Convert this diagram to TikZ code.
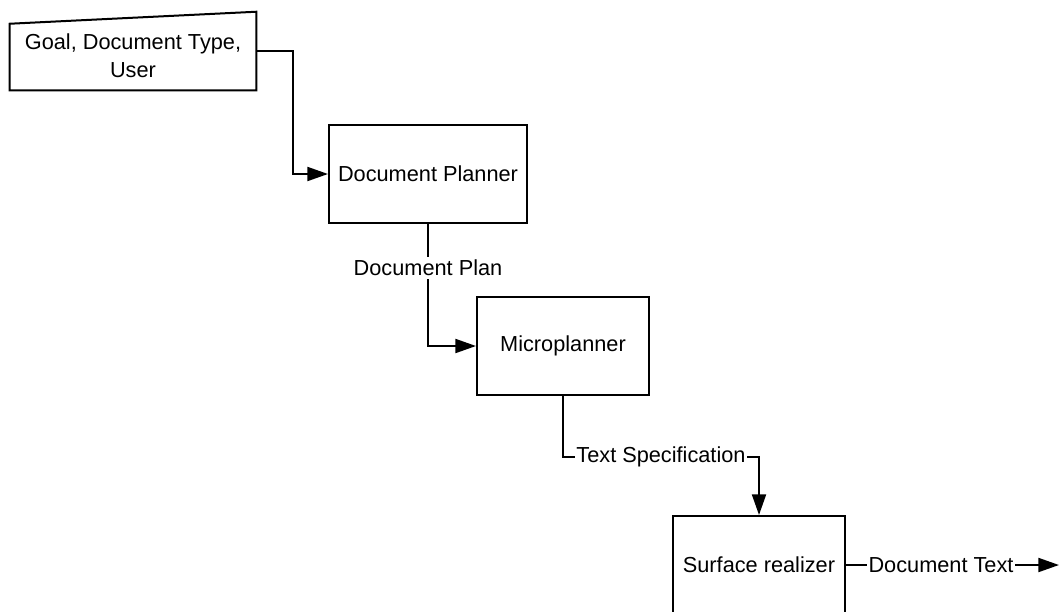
\documentclass[tikz,border=0pt]{standalone}
\usepackage{fontspec}
\setmainfont{Liberation Sans}
\usetikzlibrary{arrows.meta,calc}
\begin{document}
\begin{tikzpicture}[x=0.75pt,y=-0.75pt,
  every node/.style={font=\fontsize{16.3}{21}\selectfont},
  box/.style={draw,line width=1.5pt,inner sep=0pt,minimum height=73.5pt},
  conn/.style={line width=1.5pt},
  arr/.style={conn,-{Triangle[length=15.5pt,width=10.5pt]}},
  lbl/.style={fill=white,inner xsep=1pt,inner ysep=2pt}]
\useasboundingbox (0,0) rectangle (1059,611);
% manual input shape
\node[inner sep=0pt,minimum width=184.5pt,minimum height=58.5pt] (goal) at (133,51) {};
\draw[conn,line join=miter] (goal.south west) -- (goal.south east) -- (goal.north east)
  -- ($(goal.north west)+(0,12)$) -- cycle;
\node[align=center] (goaltext) at (133,56) {Goal, Document Type,\\User};
% boxes
\node[box,minimum width=148.5pt] (planner) at (428,174) {Document Planner};
\node[box,minimum width=129pt] (micro) at (563,346) {Microplanner};
\node[box,minimum width=129pt] (surface) at (759,565) {Surface realizer};
% connectors
\coordinate (c1) at (293,51);
\draw[arr] (goal.east) -- (c1) |- (planner.west);
\draw[arr] (planner.south) |- (micro.west);
\node[lbl] (plan) at (428,268) {Document Plan};
\coordinate (c2) at (563,457);
\coordinate (c3) at (759,457);
\draw[arr] (micro.south) -- (c2) -- (c3) -- (surface.north);
\node[lbl] (spec) at (661,457) {Text Specification};
\coordinate (out) at (1059,565);
\draw[arr] (surface.east) -- (out);
\node[lbl] (doctext) at (941,565) {Document Text};
\end{tikzpicture}
\end{document}
